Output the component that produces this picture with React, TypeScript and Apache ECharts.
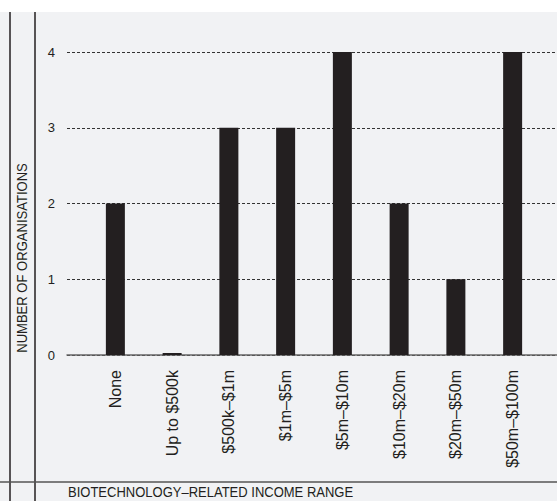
import React, { useEffect, useRef } from "react";
import * as echarts from "echarts";

const categories = [
  "None",
  "Up to $500k",
  "$500k–$1m",
  "$1m–$5m",
  "$5m–$10m",
  "$10m–$20m",
  "$20m–$50m",
  "$50m–$100m",
];
const organisations = [2, 0, 3, 3, 4, 2, 1, 4];
const yTicks = { min: 0, max: 4, interval: 1 };
const yTitle = "NUMBER OF ORGANISATIONS";
const xTitle = "BIOTECHNOLOGY–RELATED INCOME RANGE";

const INK = "#231f20";
const PANEL = "#f1f2f4";
const SANS = "Liberation Sans, Arial, sans-serif";

export default function App() {
  const ref = useRef<HTMLDivElement>(null);

  useEffect(() => {
    document.body.style.margin = "0";
    const chart = echarts.init(ref.current!, null, { renderer: "svg" });
    chart.setOption({
      animation: false,
      backgroundColor: "#ffffff",
      textStyle: { fontFamily: SANS },
      graphic: [
        {
          type: "rect",
          z: -10,
          shape: { x: 0, y: 12, width: 557, height: 489 },
          style: { fill: PANEL },
        },
        {
          type: "line",
          shape: { x1: 10, y1: 12, x2: 10, y2: 501 },
          style: { stroke: INK, lineWidth: 1.5 },
        },
        {
          type: "line",
          shape: { x1: 35, y1: 12, x2: 35, y2: 501 },
          style: { stroke: INK, lineWidth: 1.5 },
        },
        {
          type: "line",
          shape: { x1: 0, y1: 482, x2: 557, y2: 482 },
          style: { stroke: "#555", lineWidth: 1.5 },
        },
        {
          // condensed capitals: a normal face squeezed along the text direction
          type: "text",
          x: 22,
          y: 258,
          rotation: Math.PI / 2,
          scaleX: 0.87,
          style: {
            text: yTitle,
            fill: INK,
            font: `15px ${SANS}`,
            align: "center",
            verticalAlign: "middle",
          },
        },
        {
          type: "text",
          x: 68,
          y: 492,
          scaleX: 0.93,
          style: {
            text: xTitle,
            fill: INK,
            font: `14px ${SANS}`,
            align: "left",
            verticalAlign: "middle",
          },
        },
      ],
      grid: [
        { left: 67, right: 0, top: 52, bottom: 146 },
        { left: 87, width: 454, top: 52, bottom: 146 },
      ],
      xAxis: [
        {
          gridIndex: 0,
          type: "value",
          min: 0,
          max: 1,
          axisLine: { show: true, onZero: false, lineStyle: { color: "#666", width: 1.5 } },
          axisTick: { show: false },
          axisLabel: { show: false },
          splitLine: { show: false },
        },
        {
          gridIndex: 1,
          type: "category",
          data: categories,
          axisLine: { show: false },
          axisTick: { show: false },
          axisLabel: {
            rotate: 90,
            margin: 15,
            fontSize: 16,
            color: INK,
            fontFamily: SANS,
          },
        },
      ],
      yAxis: [
        {
          gridIndex: 0,
          type: "value",
          ...yTicks,
          axisLine: { show: false },
          axisTick: { show: false },
          axisLabel: {
            margin: 12,
            fontSize: 13,
            color: INK,
            fontFamily: SANS,
          },
          splitLine: { show: true, lineStyle: { color: "#333", width: 1, type: [3, 2] } },
        },
        {
          gridIndex: 1,
          type: "value",
          ...yTicks,
          show: false,
          splitLine: { show: false },
        },
      ],
      series: [
        {
          type: "bar",
          xAxisIndex: 1,
          yAxisIndex: 1,
          data: organisations,
          barWidth: 19,
          barMinHeight: 2,
          itemStyle: { color: INK },
          z: 3,
        },
      ],
    });
    return () => chart.dispose();
  }, []);

  return (
    <div
      ref={ref}
      style={{ position: "absolute", left: 0, top: 0, width: 557, height: 501 }}
    />
  );
}
